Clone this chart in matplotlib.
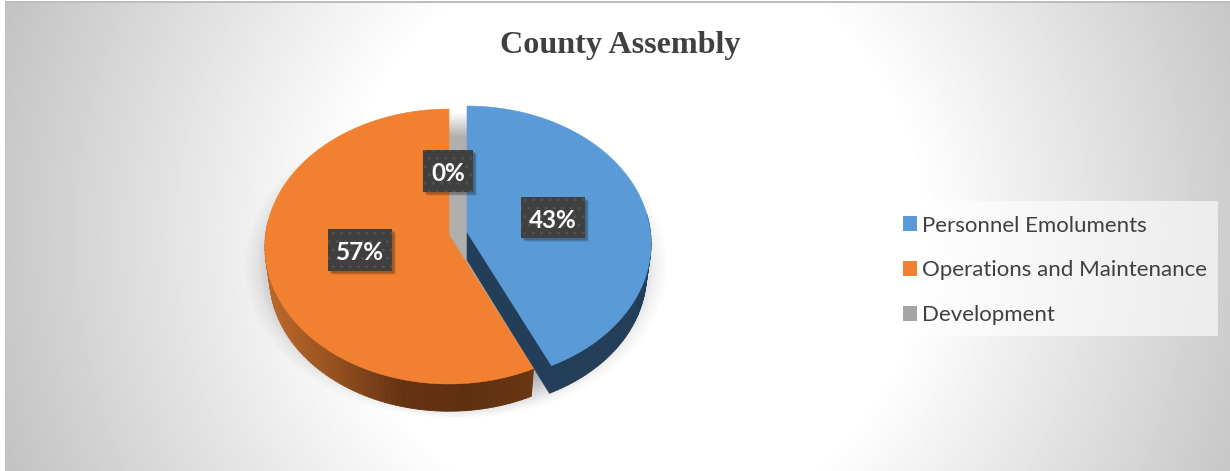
#!/usr/bin/env python

import matplotlib
matplotlib.use("Agg")
import matplotlib.pyplot as plt
import numpy as np
from matplotlib.colors import LinearSegmentedColormap
from matplotlib.patches import Patch, Rectangle

title = "County Assembly"
categories = ["Personnel Emoluments", "Operations and Maintenance", "Development"]
values = [43, 57, 0]
colors = ["#5a9ad6", "#f28031", "#a5a5a5"]
wall_colors = ["#233e58", None, "#555555"]
labels = ["43%", "57%", "0%"]

# pixel layout
W, H = 1230, 471
APEX = (449, 235)
BLUE_SHIFT = (18, -3)
RX, RY, PERSP = 183.4, 136.5, 0.0836
DEPTH = 31
label_boxes = [(521, 197, 64, 41), (328, 229, 64, 42), (423, 150, 50, 42)]

plt.rcParams["font.family"] = ["Lato", "DejaVu Sans"]
plt.rcParams["hatch.linewidth"] = 0.9

orange_wall = LinearSegmentedColormap.from_list(
    "wall", [(0, "#bd682b"), (0.22, "#9a5420"), (0.5, "#663312"), (0.75, "#5f2f10"), (1, "#6b3613")]
)


def project(theta, center=APEX, scale=1.0, dy=0):
    """Clockwise angle from the top of the pie to pixel position, with a little perspective."""
    u, v = np.sin(theta), -np.cos(theta)
    d = 1 - PERSP * v
    return center[0] + scale * RX * u / d, center[1] + dy + scale * RY * v / d


def wedge_outline(start, end, center, scale=1.0, dy=0):
    t = np.linspace(start, end, 200)
    x, y = project(t, center, scale, dy)
    return np.r_[center[0], x], np.r_[center[1] + dy, y]


def background(ax):
    yy, xx = np.mgrid[0:H, 0:W]
    dist = np.hypot(xx - 630, yy - 235)
    img = np.clip(255 - 0.159 * np.clip(dist - 290, 0, None), 0, 255) / 255
    ax.imshow(img, cmap="gray", vmin=0, vmax=1, extent=(5, W, H, 2), aspect="auto", zorder=0)
    ax.add_patch(Rectangle((5, 0.5), W - 5, 2, fc="#bdbdbd", ec="none", zorder=0.5))


def pie_shadow(ax):
    t = np.linspace(0, 2 * np.pi, 300)
    for s in np.linspace(1.11, 0.93, 20):
        for center in [APEX, (APEX[0] + 14, APEX[1])]:
            x, y = project(t, center, s, 18)
            ax.fill(x, y, color="#000000", alpha=0.0065, lw=0, zorder=1)


def draw_slice(ax, start, end, center, color, wall_color):
    if end <= start:
        return
    # side wall along the rim
    edges = np.linspace(start, end, 121)
    for a, b in zip(edges[:-1], edges[1:]):
        if np.cos((a + b) / 2) > 0.12:
            continue
        xa, ya = project(np.array([a, b]), center)
        xb, yb = project(np.array([b, a]), center, 0.975, DEPTH)
        if wall_color is None:
            c = orange_wall(np.clip((xa.mean() - 265) / 270, 0, 1))
        else:
            c = wall_color
        ax.fill(np.r_[xa, xb], np.r_[ya, yb], color=c, lw=0.6, zorder=2)
    # cut face of the exploded slice
    if center != APEX:
        xe, ye = project(np.array([end]), center)
        xe2, ye2 = project(np.array([end]), center, 0.975, DEPTH)
        ax.fill(
            [center[0], xe[0], xe2[0], center[0]],
            [center[1], ye[0], ye2[0], center[1] + 28],
            color=wall_color, lw=0.4, zorder=2,
        )
    x, y = wedge_outline(start, end, center)
    ax.fill(x, y, color=color, lw=0.4, zorder=3)


def plot_chart():
    fig = plt.figure(figsize=(W / 100, H / 100), dpi=100)
    ax = fig.add_axes([0, 0, 1, 1])
    background(ax)
    pie_shadow(ax)

    angles = np.r_[0, np.cumsum(values)] / np.sum(values) * 2 * np.pi
    blue_center = (APEX[0] + BLUE_SHIFT[0], APEX[1] + BLUE_SHIFT[1])
    centers = [blue_center, APEX, APEX]
    for i in range(len(values)):
        draw_slice(ax, angles[i], angles[i + 1], centers[i], colors[i], wall_colors[i])

    for (x, y, w, h), text in zip(label_boxes, labels):
        for k in range(1, 6):
            ax.add_patch(Rectangle((x + 1 + k * 0.6, y + 1 + k * 0.6), w, h, fc="black", ec="none", alpha=0.07, zorder=4))
        ax.add_patch(Rectangle((x, y), w, h, fc="#404040", ec="#525252", hatch="..", lw=0, zorder=5))
        ax.text(x + w / 2, y + h / 2 + 2.5, text, color="white", fontsize=17.5, fontweight="bold",
                ha="center", va="center", zorder=6)

    ax.text(620, 45, title, family=["Liberation Serif"], fontweight="bold", fontsize=23.1,
            color="#404040", ha="center", va="center", zorder=6)

    ax.add_patch(Rectangle((890, 201), 328, 135, fc="white", ec="none", alpha=0.6, zorder=5))
    handles = [Patch(fc=c, ec="none") for c in colors]
    leg = ax.legend(
        handles, categories, loc="upper left", bbox_to_anchor=(903, 215.5), bbox_transform=ax.transData,
        fontsize=16, labelcolor="#404040", frameon=False, handlelength=0.65, handleheight=0.65,
        handletextpad=0.2, labelspacing=1.12, borderaxespad=0, borderpad=0,
    )
    leg.set_zorder(6)

    ax.set_xlim(0, W)
    ax.set_ylim(H, 0)
    ax.axis("off")
    fig.savefig("out.png", dpi=100, facecolor="white")
    plt.close(fig)


if __name__ == "__main__":
    plot_chart()
